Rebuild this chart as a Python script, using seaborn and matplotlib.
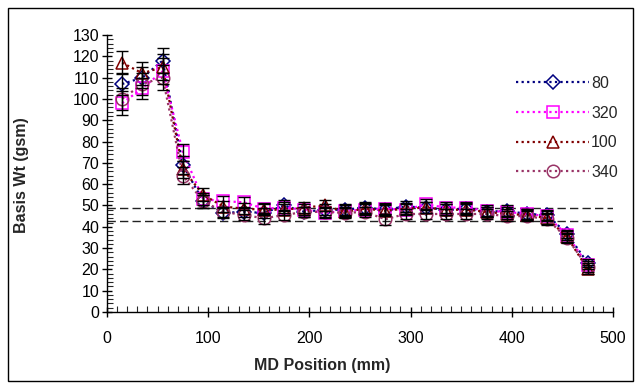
import matplotlib
matplotlib.use("Agg")
import matplotlib.pyplot as plt
from matplotlib.ticker import MultipleLocator
from matplotlib.patches import Rectangle
import numpy as np
import pandas as pd
import seaborn as sns

# MD positions (mm)
md_pos = [15, 35, 55, 75, 95, 115, 135, 155, 175, 195, 215, 235,
          255, 275, 295, 315, 335, 355, 375, 395, 415, 435, 455, 475]

# basis weight (gsm) per CD position
bw_80 = [107, 110, 118, 69, 52, 46.5, 47, 46.5, 50, 47, 48, 48,
         49, 48, 49.5, 49, 48, 48.5, 47, 47.5, 46, 45.5, 36.5, 23]
bw_320 = [98, 105, 113, 75, 53, 52, 51.5, 48.5, 49, 48, 46.5, 47.5,
          48, 48.5, 48, 50.5, 49, 49, 47.5, 47, 46, 45, 36, 22]
bw_100 = [117, 112, 115, 67, 55, 49.5, 48.5, 48, 48, 49, 50, 47,
          48.5, 47.5, 48.5, 49, 48, 48, 47, 46, 45.5, 44, 35, 20]
bw_340 = [100, 107, 110, 64, 52, 47, 45.5, 44, 45.5, 47, 47, 46.5,
          47, 43.5, 46, 46, 46, 46, 46, 45, 45, 43.5, 34.5, 21]

# std dev for error bars
err_80 = [5, 5, 6, 4, 3, 2.5, 2.5, 2.5, 2.5, 2.5, 2.5, 2.5,
          2.5, 2.5, 2.5, 2.5, 2.5, 2.5, 2.5, 2.5, 2.5, 2.5, 2, 2]
err_320 = [5.5, 5, 6, 4, 3, 2.5, 2.5, 2.5, 2.5, 2.5, 2.5, 2.5,
           2.5, 2.5, 2.5, 2.5, 2.5, 2.5, 2.5, 2.5, 2.5, 2.5, 2, 2]
err_100 = [5.5, 5.5, 6, 4, 3, 2.5, 2.5, 2.5, 2.5, 2.5, 2.5, 2.5,
           2.5, 2.5, 2.5, 2.5, 2.5, 2.5, 2.5, 2.5, 2.5, 2.5, 2, 2]
err_340 = [5, 5, 6, 4, 3, 2.5, 2.5, 2.5, 2.5, 2.5, 2.5, 2.5,
           2.5, 2.5, 2.5, 2.5, 2.5, 2.5, 2.5, 2.5, 2.5, 2.5, 2, 2]

series_names = ["80", "320", "100", "340"]
limit_hi = 48.8
limit_lo = 42.6

sns.set_style("ticks")
plt.rcParams["font.family"] = ["Liberation Sans", "DejaVu Sans"]

fig = plt.figure(figsize=(6.41, 3.89), dpi=100)
ax = fig.add_axes([107 / 641, 1 - 312 / 389, 506 / 641, 277 / 389])

colors = ["#000080", "#ff00ff", "#800000", "#993366"]
markers = ["D", "s", "^", "o"]
sizes = [7, 9, 9, 9]
values = [bw_80, bw_320, bw_100, bw_340]
errs = [err_80, err_320, err_100, err_340]

ax.axhline(limit_hi, color="#222222", lw=1, ls=(0, (6, 3)), zorder=1)
ax.axhline(limit_lo, color="#222222", lw=1, ls=(0, (6, 3)), zorder=1)

for name, c, m, ms, v, e in zip(series_names, colors, markers, sizes, values, errs):
    sns.lineplot(x=md_pos, y=v, ax=ax, color=c, marker=m, markersize=ms,
                 markerfacecolor="none", markeredgecolor=c, markeredgewidth=1.1,
                 linestyle=(0, (1, 1.5)), linewidth=1.6, label=name,
                 errorbar=None, zorder=3)
    ax.errorbar(md_pos, v, yerr=e, fmt="none", ecolor="black",
                elinewidth=1, capsize=4, capthick=1, zorder=4)

ax.set_xlim(0, 500)
ax.set_ylim(0, 130)
ax.xaxis.set_major_locator(MultipleLocator(100))
ax.xaxis.set_minor_locator(MultipleLocator(10))
ax.yaxis.set_major_locator(MultipleLocator(10))
ax.yaxis.set_minor_locator(MultipleLocator(2))
ax.tick_params(which="major", direction="inout", length=7, width=1,
               labelsize=11.5, colors="black")
ax.tick_params(axis="y", which="major", pad=2)
ax.tick_params(axis="x", which="major", pad=10)
ax.tick_params(which="minor", direction="in", length=4, width=0.8)

for s in ["top", "right"]:
    ax.spines[s].set_visible(False)
for s in ["left", "bottom"]:
    ax.spines[s].set_color("black")
    ax.spines[s].set_linewidth(1)

ax.set_xlabel("MD Position (mm)", fontsize=11.5, fontweight="bold")
ax.set_ylabel("Basis Wt (gsm)", fontsize=11.5, fontweight="bold")
ax.xaxis.set_label_coords(0.425, -0.165)
ax.yaxis.set_label_coords(-0.155, 0.495)

ax.legend(loc="upper left", bbox_to_anchor=(508 / 641, 1 - 68 / 389),
          bbox_transform=fig.transFigure, frameon=False, fontsize=11.5,
          handlelength=4.6, handletextpad=0.1, labelspacing=0.92, borderpad=0)

fig.patches.append(Rectangle((8 / 641, 8 / 389), 625 / 641, 373 / 389,
                             transform=fig.transFigure, fill=False,
                             edgecolor="black", linewidth=1))

fig.savefig("out.png", dpi=100)
